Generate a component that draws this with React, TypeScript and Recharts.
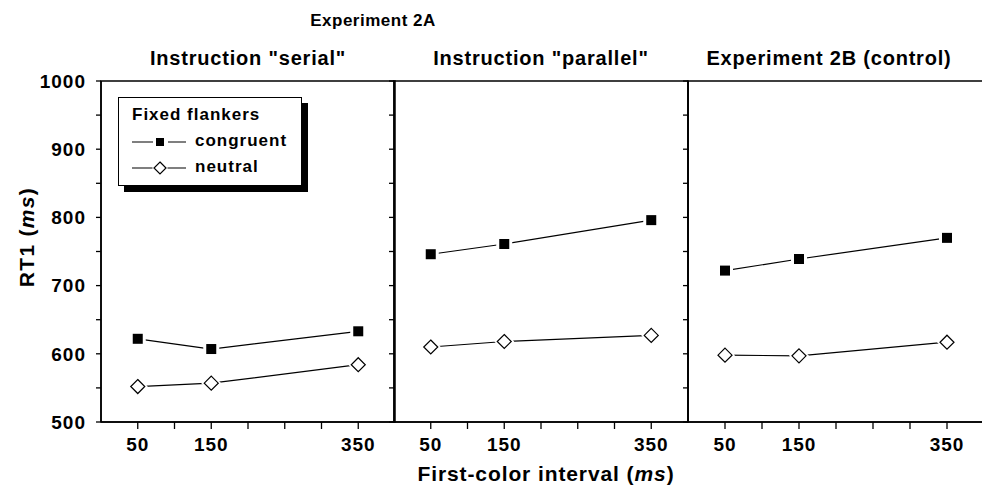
import React from 'react';
import { LineChart, Line, XAxis, YAxis, ReferenceArea } from 'recharts';

const intervals = [50, 150, 350];
const serialCongruent = [622, 607, 633];
const serialNeutral = [552, 557, 584];
const parallelCongruent = [746, 761, 796];
const parallelNeutral = [610, 618, 627];
const controlCongruent = [722, 739, 770];
const controlNeutral = [598, 597, 617];

const panelTitles = ['Instruction "serial"', 'Instruction "parallel"', 'Experiment 2B (control)'];
const legendTitle = 'Fixed flankers';
const seriesNames = ['congruent', 'neutral'];
const xTicks = [50, 100, 150, 200, 250, 300, 350];
const xLabeled = [50, 150, 350];
const yTicks = [500, 550, 600, 650, 700, 750, 800, 850, 900, 950, 1000];
const yLabeled = [500, 600, 700, 800, 900, 1000];

const FONT = '"Liberation Sans", Arial, Helvetica, sans-serif';

const build = (c: number[], n: number[]) =>
  intervals.map((x, i) => ({ x, congruent: c[i], neutral: n[i] }));

const panels = [
  { data: build(serialCongruent, serialNeutral), left: 101, right: 395, labels: true },
  { data: build(parallelCongruent, parallelNeutral), left: 394, right: 688, labels: false },
  { data: build(controlCongruent, controlNeutral), left: 688, right: 984, labels: false },
];

const CHART_W = 1000;
const CHART_H = 494;
const PLOT_TOP = 81;
const PLOT_BOTTOM = 422;
const YAXIS_W = 60;
const XAXIS_H = 30;

const SquareDot = (props: any) => {
  const { cx, cy } = props;
  if (cx == null || cy == null) return null;
  return (
    <g>
      <rect x={cx - 8} y={cy - 8} width={16} height={16} fill="#fff" />
      <rect x={cx - 5} y={cy - 5} width={10} height={10} fill="#000" />
    </g>
  );
};

const DiamondDot = (props: any) => {
  const { cx, cy } = props;
  if (cx == null || cy == null) return null;
  const h = 7;
  const o = 10;
  return (
    <g>
      <polygon points={`${cx},${cy - o} ${cx + o},${cy} ${cx},${cy + o} ${cx - o},${cy}`} fill="#fff" />
      <polygon
        points={`${cx},${cy - h} ${cx + h},${cy} ${cx},${cy + h} ${cx - h},${cy}`}
        fill="#fff"
        stroke="#000"
        strokeWidth={1.2}
      />
    </g>
  );
};

const LegendBox = () => (
  <div
    style={{
      position: 'absolute',
      left: 118,
      top: 97,
      width: 184,
      height: 89,
      border: '1.5px solid #000',
      boxSizing: 'border-box',
      boxShadow: '6px 6px 0 #000',
      background: '#fff',
      fontFamily: FONT,
      fontWeight: 'bold',
      fontSize: 17,
      letterSpacing: 1,
      lineHeight: '20px',
      color: '#000',
    }}
  >
    <div style={{ position: 'absolute', left: 13, top: 7, whiteSpace: 'nowrap' }}>{legendTitle}</div>
    <svg style={{ position: 'absolute', left: 0, top: 0 }} width={80} height={89}>
      <line x1={13} x2={67} y1={44} y2={44} stroke="#000" strokeWidth={1.2} />
      <rect x={34} y={38} width={15} height={12} fill="#fff" />
      <rect x={37} y={40} width={8} height={8} fill="#000" />
      <line x1={13} x2={67} y1={70} y2={70} stroke="#000" strokeWidth={1.2} />
      <polygon points="41,62 49,70 41,78 33,70" fill="#fff" />
      <polygon points="41,64 47,70 41,76 35,70" fill="#fff" stroke="#000" strokeWidth={1.2} />
    </svg>
    <div style={{ position: 'absolute', left: 76, top: 33, whiteSpace: 'nowrap' }}>{seriesNames[0]}</div>
    <div style={{ position: 'absolute', left: 76, top: 59, whiteSpace: 'nowrap' }}>{seriesNames[1]}</div>
  </div>
);

const tickStyle = { fontSize: 19, fontWeight: 'bold' as const, fill: '#000', fontFamily: FONT, letterSpacing: 1 };

export default function App() {
  return (
    <div
      style={{
        position: 'absolute',
        left: 0,
        top: 0,
        width: 982,
        height: 494,
        overflow: 'hidden',
        background: '#fff',
      }}
    >
      {panels.map((p, idx) => (
        <div key={idx} style={{ position: 'absolute', left: 0, top: 0 }}>
          <LineChart
            width={CHART_W}
            height={CHART_H}
            data={p.data}
            margin={{
              top: PLOT_TOP,
              bottom: CHART_H - PLOT_BOTTOM - XAXIS_H,
              left: p.left - YAXIS_W,
              right: CHART_W - p.right,
            }}
          >
            <XAxis
              dataKey="x"
              type="number"
              domain={[0, 400]}
              ticks={xTicks}
              interval={0}
              height={XAXIS_H}
              tickFormatter={(v: number) => (xLabeled.includes(v) ? String(v) : '')}
              tick={tickStyle}
              tickSize={7}
              tickMargin={9}
              axisLine={{ stroke: '#000', strokeWidth: 1.5 }}
              tickLine={{ stroke: '#000', strokeWidth: 1.3 }}
              allowDataOverflow
            />
            <YAxis
              type="number"
              domain={[500, 1000]}
              ticks={yTicks}
              interval={0}
              width={YAXIS_W}
              tickFormatter={(v: number) => (p.labels && yLabeled.includes(v) ? String(v) : '')}
              tick={tickStyle}
              tickSize={5}
              tickMargin={10}
              axisLine={{ stroke: '#000', strokeWidth: 1.5 }}
              tickLine={{ stroke: '#000', strokeWidth: 1.3 }}
              allowDataOverflow
            />
            <ReferenceArea
              x1={0}
              x2={400}
              y1={500}
              y2={1000}
              fill="none"
              fillOpacity={0}
              stroke="#000"
              strokeWidth={1.5}
            />
            <Line
              dataKey="congruent"
              name="congruent"
              stroke="#000"
              strokeWidth={1.2}
              dot={<SquareDot />}
              activeDot={false}
              isAnimationActive={false}
            />
            <Line
              dataKey="neutral"
              name="neutral"
              stroke="#000"
              strokeWidth={1.2}
              dot={<DiamondDot />}
              activeDot={false}
              isAnimationActive={false}
            />
          </LineChart>
        </div>
      ))}
      <LegendBox />
      <svg
        width={982}
        height={494}
        style={{ position: 'absolute', left: 0, top: 0, pointerEvents: 'none' }}
        fontFamily={FONT}
        fontWeight="bold"
        fill="#000"
      >
        <text x={373} y={26} textAnchor="middle" fontSize={17} letterSpacing={0.5}>
          Experiment 2A
        </text>
        {panelTitles.map((t, i) => (
          <text
            key={t}
            x={[248, 541, 829][i]}
            y={65}
            textAnchor="middle"
            fontSize={20}
            letterSpacing={0.8}
          >
            {t}
          </text>
        ))}
        <text
          transform="translate(34,237) rotate(-90)"
          textAnchor="middle"
          fontSize={21}
          letterSpacing={1.3}
        >
          RT1 (<tspan fontStyle="italic">ms</tspan>)
        </text>
        <text x={546} y={481} textAnchor="middle" fontSize={21} letterSpacing={0.9}>
          First-color interval (<tspan fontStyle="italic">ms</tspan>)
        </text>
      </svg>
    </div>
  );
}
